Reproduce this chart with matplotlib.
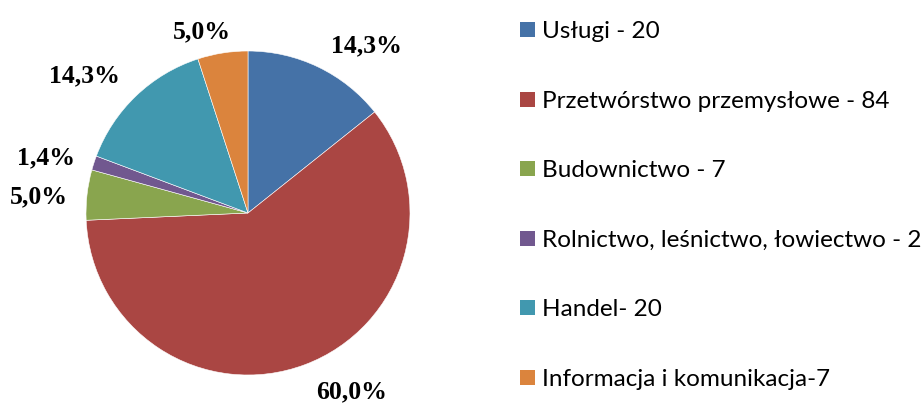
import numpy as np
import matplotlib
matplotlib.use("Agg")
import matplotlib.pyplot as plt
from matplotlib.patches import Rectangle
from matplotlib.transforms import ScaledTranslation

categories = ["Usługi", "Przetwórstwo przemysłowe", "Budownictwo",
              "Rolnictwo, leśnictwo, łowiectwo", "Handel", "Informacja i komunikacja"]
values = [20, 84, 7, 2, 20, 7]
legend_labels = ["Usługi - 20", "Przetwórstwo przemysłowe - 84", "Budownictwo - 7",
                 "Rolnictwo, leśnictwo, łowiectwo - 2", "Handel- 20",
                 "Informacja i komunikacja-7"]
colors = ["#4572A7", "#AA4643", "#89A54E", "#71588F", "#4198AF", "#DB843D"]

# label layout (radius factor, angular shift from wedge middle in degrees)
label_r = [1.272, 1.265, 1.295, 1.296, 1.329, 1.165]
label_dang = [-9.2, 9.9, 1.5, 2.2, 5.9, 5.1]

W, H, DPI = 924, 403, 100
fig = plt.figure(figsize=(W / DPI, H / DPI), dpi=DPI)
cx, cy, R = 248, 213, 162
ax = fig.add_axes([(cx - R) / W, (H - cy - R) / H, 2 * R / W, 2 * R / H])
wedges, _ = ax.pie(values, colors=colors, startangle=90, counterclock=False,
                   radius=1.0, wedgeprops=dict(edgecolor="white", linewidth=0.4))
ax.set_xlim(-1, 1)
ax.set_ylim(-1, 1)
ax.set_aspect("equal")
ax.axis("off")

total = sum(values)
start = 90.0
off = ScaledTranslation(0, -8.5 / DPI, fig.dpi_scale_trans)
for i, v in enumerate(values):
    ang = start - v / total * 360 / 2
    start -= v / total * 360
    a = np.deg2rad(ang + label_dang[i])
    x, y = label_r[i] * np.cos(a), label_r[i] * np.sin(a)
    pct = f"{100 * v / total:.1f}%".replace(".", ",")
    ax.text(x, y, pct, ha="center", va="baseline", fontsize=18.5,
            fontweight="bold", family="Liberation Serif",
            transform=ax.transData + off, clip_on=False)

# legend
fam = "Lato"
renderer = fig.canvas.get_renderer()
t = fig.text(0, 0, legend_labels[3], fontsize=20, family=fam)
w = t.get_window_extent(renderer).width
t.remove()
fs = 20 * 380 / w
row0, dy = 29.5, 69.6
for i, lab in enumerate(legend_labels):
    yc = row0 + i * dy
    fig.add_artist(Rectangle(((520) / W, (H - yc - 7.5) / H), 15 / W, 15 / H,
                             facecolor=colors[i], edgecolor="none",
                             transform=fig.transFigure))
    fig.text(542 / W, (H - yc - 8.5) / H, lab, fontsize=fs, family=fam,
             ha="left", va="baseline", color="black")

fig.savefig("out.png", dpi=DPI, facecolor="white")
